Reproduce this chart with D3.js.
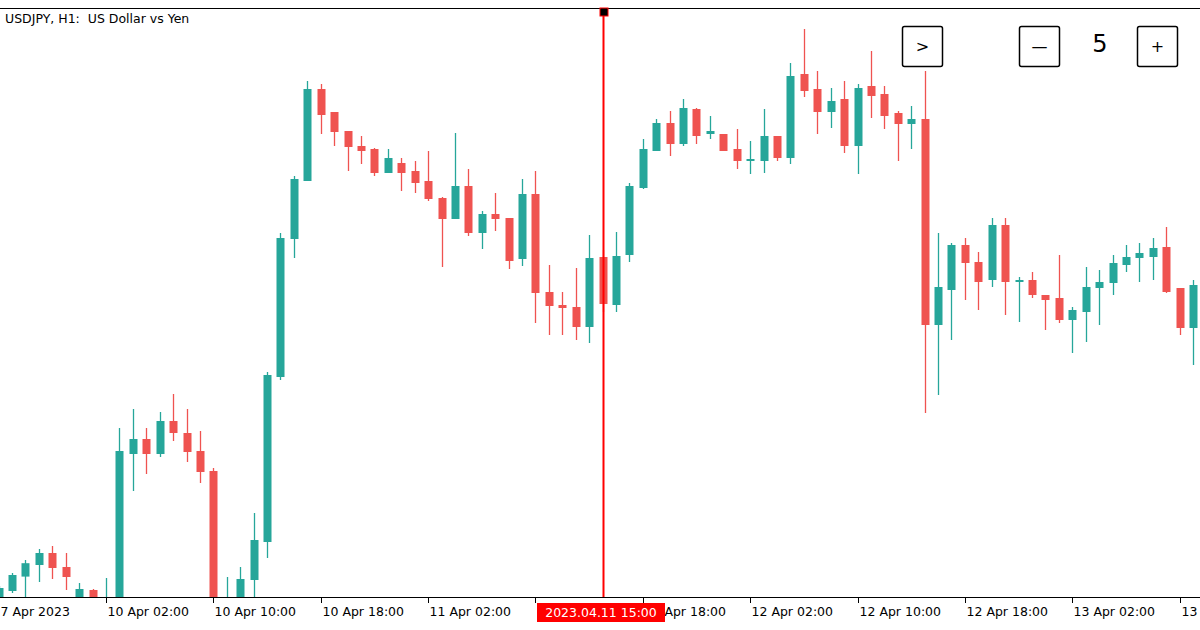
<!DOCTYPE html>
<html><head><meta charset="utf-8">
<script src="https://cdn.jsdelivr.net/npm/d3@7"></script>
<style>body{margin:0;background:#fff}svg{display:block}text{white-space:pre}</style>
</head><body>
<script>
// bar index 0 = 10 Apr 02:00 (H1 bars)
const firstIndex = -8;
const opens  = [130.975,131.045,131.117,131.175,131.235,131.165,131.000,131.050,130.975,130.975,131.730,131.805,131.730,131.895,131.835,131.745,131.645,130.875,130.975,131.100,131.290,132.115,132.805,133.095,133.555,133.440,133.345,133.270,133.255,133.135,133.185,133.145,133.095,133.010,132.905,133.070,132.835,132.930,132.910,132.705,133.030,132.540,132.475,132.465,132.365,132.715,132.475,132.725,133.060,133.245,133.385,133.280,133.455,133.330,133.330,133.255,133.195,133.195,133.320,133.210,133.630,133.555,133.440,133.505,133.270,133.570,133.530,133.435,133.380,133.405,132.375,132.550,132.775,132.690,132.600,132.875,132.590,132.600,132.525,132.510,132.400,132.440,132.560,132.585,132.675,132.710,132.715,132.765,132.560,132.360];
const highs  = [131.070,131.135,131.200,131.255,131.270,131.235,131.085,131.055,131.110,131.860,131.955,131.860,131.940,132.030,131.955,131.845,131.660,131.115,131.165,131.435,132.140,132.835,133.120,133.595,133.580,133.440,133.345,133.320,133.260,133.255,133.210,133.195,133.245,133.015,133.335,133.155,132.945,133.035,132.910,133.105,133.145,132.675,132.540,132.660,132.825,132.750,132.840,133.085,133.305,133.405,133.445,133.505,133.460,133.420,133.330,133.355,133.295,133.455,133.320,133.685,133.855,133.645,133.560,133.595,133.580,133.745,133.570,133.445,133.470,133.645,132.835,132.785,132.810,132.740,132.910,132.910,132.615,132.640,132.525,132.725,132.465,132.665,132.650,132.725,132.775,132.785,132.810,132.865,132.560,132.600];
const lows   = [130.960,131.035,131.000,131.090,131.105,131.050,130.975,130.950,130.950,130.960,131.545,131.630,131.715,131.795,131.690,131.585,130.875,130.850,130.950,131.015,131.210,132.100,132.710,133.095,133.330,133.270,133.145,133.180,133.120,133.135,133.045,133.035,132.995,132.665,132.905,132.820,132.755,132.845,132.655,132.670,132.385,132.325,132.325,132.300,132.285,132.440,132.440,132.690,133.055,133.245,133.220,133.270,133.280,133.305,133.245,133.155,133.130,133.135,133.195,133.180,133.515,133.330,133.360,133.235,133.130,133.410,133.355,133.195,133.255,131.935,132.025,132.300,132.500,132.450,132.565,132.425,132.390,132.510,132.350,132.385,132.235,132.290,132.375,132.525,132.640,132.590,132.600,132.535,132.325,132.175];
const closes = [131.060,131.125,131.184,131.235,131.160,131.115,131.055,130.990,130.990,131.745,131.805,131.730,131.895,131.835,131.740,131.640,130.900,130.950,131.105,131.300,132.125,132.810,133.105,133.555,133.425,133.340,133.265,133.245,133.135,133.210,133.135,133.085,133.005,132.905,133.070,132.835,132.930,132.905,132.695,133.030,132.535,132.470,132.460,132.365,132.710,132.480,132.720,133.070,133.255,133.385,133.280,133.460,133.320,133.345,133.245,133.195,133.205,133.320,133.210,133.620,133.545,133.440,133.495,133.270,133.560,133.520,133.420,133.380,133.405,132.375,132.565,132.775,132.685,132.590,132.875,132.590,132.600,132.525,132.500,132.400,132.450,132.565,132.590,132.685,132.715,132.735,132.760,132.540,132.360,132.575];
const tickIndex  = [-8,0,8,16,24,32,40,48,56,64,72,80];
// the 11 Apr 10:00 label sits under the crosshair time box, so it is left empty
const tickLabels = ["7 Apr 2023","10 Apr 02:00","10 Apr 10:00","10 Apr 18:00","11 Apr 02:00","","11 Apr 18:00","12 Apr 02:00","12 Apr 10:00","12 Apr 18:00","13 Apr 02:00","13 Apr 10:00"];
const crossIndex = 37, crossLabel = "2023.04.11 15:00";
const title = "USDJPY, H1:  US Dollar vs Yen";

const W=1200,H=630, pTop=8, pBot=597;
const svg=d3.select("body").append("svg").attr("width",W).attr("height",H).style("font-family","Tahoma, 'DejaVu Sans', sans-serif");
const x=d3.scaleLinear().domain([0,1]).range([106,119.42]);
const y=d3.scaleLinear().domain([133.96,131.015]).range([pTop,pBot]);
const data=opens.map((o,k)=>({i:firstIndex+k,o,h:highs[k],l:lows[k],c:closes[k]}));
svg.append("defs").append("clipPath").attr("id","cp").append("rect").attr("x",0).attr("y",pTop).attr("width",W).attr("height",pBot-pTop);
const g=svg.append("g").attr("clip-path","url(#cp)");
const up="#26a69a", dn="#ef5350";
const cg=g.selectAll("g.c").data(data).join("g");
cg.append("line").attr("x1",d=>Math.round(x(d.i))+0.5).attr("x2",d=>Math.round(x(d.i))+0.5)
  .attr("y1",d=>y(d.h)).attr("y2",d=>y(d.l)).attr("stroke",d=>d.c>=d.o?up:dn).attr("stroke-width",1.3);
cg.append("rect").attr("x",d=>Math.round(x(d.i))-3.5).attr("width",8)
  .attr("y",d=>y(Math.max(d.o,d.c))).attr("height",d=>Math.max(1.5,Math.abs(y(d.o)-y(d.c))))
  .attr("fill",d=>d.c>=d.o?up:dn);
svg.append("line").attr("x1",0).attr("x2",W).attr("y1",pTop+0.5).attr("y2",pTop+0.5).attr("stroke","#000");
svg.append("line").attr("x1",0).attr("x2",W).attr("y1",pBot+0.5).attr("y2",pBot+0.5).attr("stroke","#000");
const tg=svg.append("g");
tickIndex.forEach((ti,k)=>{
  const tx=Math.round(x(ti))+0.5;
  tg.append("line").attr("x1",tx).attr("x2",tx).attr("y1",pBot).attr("y2",pBot+6).attr("stroke","#000");
  if(tickLabels[k]) tg.append("text").attr("x",tx+1).attr("y",616).attr("font-size",12.5).attr("fill","#000").text(tickLabels[k]);
});
const cx=Math.round(x(crossIndex));
svg.append("rect").attr("x",cx-0.5).attr("y",pTop).attr("width",2).attr("height",pBot-pTop).attr("fill","#ff0000");
svg.append("rect").attr("x",cx-3).attr("y",pTop).attr("width",8).attr("height",8).attr("fill","#000").attr("stroke","#ff0000").attr("stroke-width",1);
svg.append("rect").attr("x",537).attr("y",603).attr("width",128).attr("height",19).attr("fill","#ff0000");
svg.append("text").attr("x",601).attr("y",617).attr("text-anchor","middle").attr("font-size",12.5).attr("fill","#fff").text(crossLabel);
svg.append("text").attr("x",5).attr("y",23).attr("font-size",12.5).attr("fill","#000").text(title);
const btns=[{x:902,t:">"},{x:1019,t:"—"},{x:1137,t:"+"}];
btns.forEach(b=>{
  svg.append("rect").attr("x",b.x+0.5).attr("y",26.5).attr("width",40).attr("height",40).attr("rx",2).attr("fill","#fff").attr("stroke","#000").attr("stroke-width",1.5);
  svg.append("text").attr("x",b.x+20.5).attr("y",52).attr("text-anchor","middle").attr("font-size",16).attr("fill","#000").text(b.t);
});
svg.append("text").attr("x",1100).attr("y",52).attr("text-anchor","middle").attr("font-size",24).attr("fill","#000").text("5");
</script>
</body></html>
